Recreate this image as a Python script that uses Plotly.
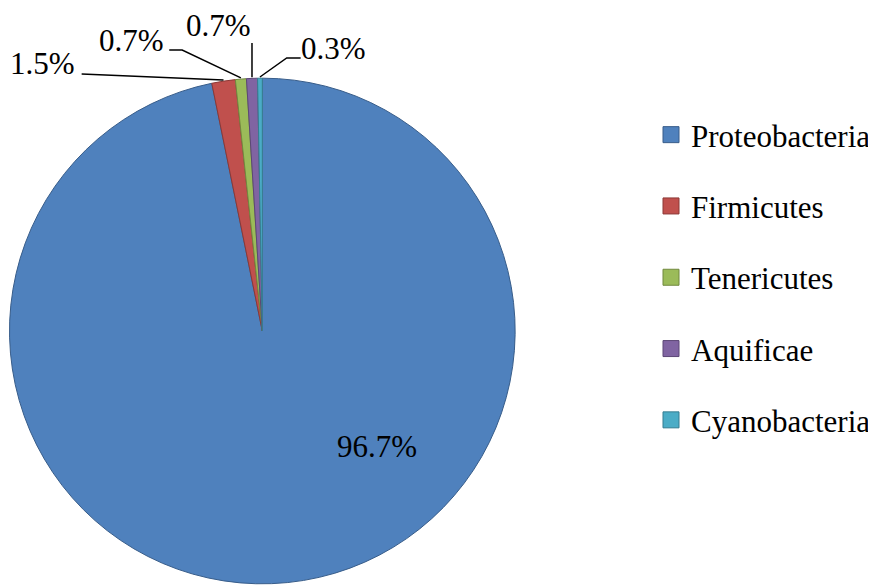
import math
import plotly.graph_objects as go

categories = ["Proteobacteria", "Firmicutes", "Tenericutes", "Aquificae", "Cyanobacteria"]
values = [96.7, 1.5, 0.7, 0.7, 0.3]
labels_text = ["96.7%", "1.5%", "0.7%", "0.7%", "0.3%"]
colors = ["#4F81BD", "#C0504D", "#9BBB59", "#8064A2", "#4BACC6"]
edge_colors = ["#385D8A", "#8C3836", "#71893F", "#5C4776", "#357D91"]

# the page body adds an 8px margin; work in screen pixels and convert
OFF = 8
W, H = 876 - OFF, 585 - OFF
FONT = "Liberation Serif"

# pie geometry (screen pixels)
cx, cy, R = 263.5, 331.0, 254.0


def px(x):
    return (x - OFF) / W


def py(y):
    return 1 - (y - OFF) / H


fig = go.Figure()
fig.add_trace(go.Pie(
    labels=categories, values=values, sort=False, direction="clockwise",
    rotation=0, textinfo="none", hoverinfo="label+percent",
    marker=dict(colors=colors, line=dict(color=edge_colors, width=1)),
    domain=dict(x=[px(cx - R), px(cx + R)], y=[max(0, py(cy + R)), py(cy - R)]),
    showlegend=False,
))

# legend entries
for c, col, ec in zip(categories, colors, edge_colors):
    fig.add_trace(go.Scatter(
        x=[None], y=[None], mode="markers", name=c, legendgroup=c,
        marker=dict(symbol="square", size=16, color=col, line=dict(color=ec, width=1)),
    ))

# slice mid-angle anchors on the rim
total = sum(values)
cum = 0
anchors = []
for v in values:
    mid = (cum + v / 2) / total * 2 * math.pi
    cum += v
    anchors.append((cx + R * math.sin(mid), cy - R * math.cos(mid)))

annotations = []
shapes = []
label_pos = {0: (379, 446), 1: (43, 64), 2: (132, 41), 3: (219, 26), 4: (335, 49)}
for i, (lx, ly) in label_pos.items():
    annotations.append(dict(x=px(lx), y=py(ly), xref="paper", yref="paper", text=labels_text[i],
                            xanchor="center", yanchor="middle",
                            showarrow=False, font=dict(size=31, color="black", family=FONT)))

leader = {
    1: [(82, 74)],
    2: [(170, 50), (183, 50)],
    3: [(None, 43)],
    4: [(302, 58), (288, 58)],
}
for i, pts in leader.items():
    ax, ay = anchors[i]
    pts = [(ax if x is None else x, y) for x, y in pts] + [(ax, ay)]
    path = "M " + " L ".join(f"{px(x)},{py(y)}" for x, y in pts)
    shapes.append(dict(type="path", xref="paper", yref="paper", path=path,
                       line=dict(color="black", width=1.5)))

fig.update_layout(
    width=W, height=H,
    margin=dict(l=0, r=0, t=0, b=0),
    paper_bgcolor="white", plot_bgcolor="white",
    xaxis=dict(visible=False), yaxis=dict(visible=False),
    annotations=annotations, shapes=shapes,
    font=dict(family=FONT, color="black"),
    legend=dict(x=px(654), y=py(108), xanchor="left", yanchor="top",
                font=dict(size=31, family=FONT, color="black"),
                tracegroupgap=28, itemsizing="trace", bgcolor="rgba(0,0,0,0)"),
)

fig.write_html("out.html")
